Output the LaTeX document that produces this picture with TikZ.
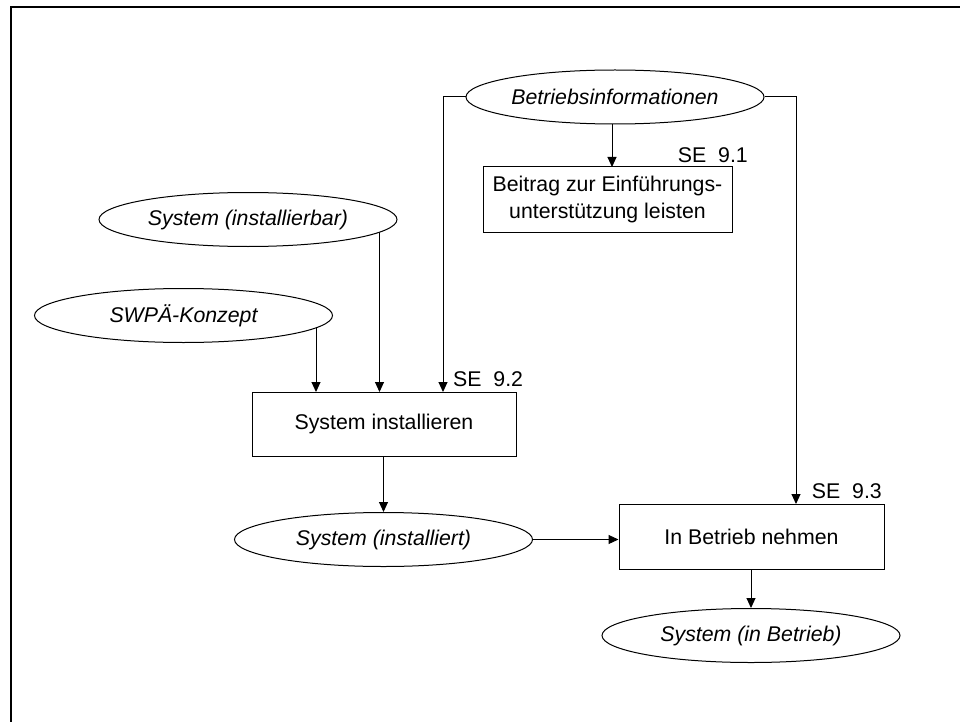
\documentclass[tikz,border=0pt]{standalone}
\usepackage{fontspec}
\setmainfont{Liberation Sans}
\usetikzlibrary{shapes.geometric,arrows.meta}
\pgfdeclarelayer{background}
\pgfsetlayers{background,main}
\newcommand{\diagsize}{\fontsize{21.3}{26.5}\selectfont}
\tikzset{
  doc/.style={ellipse, draw, line width=1pt, fill=white, inner sep=0pt,
    minimum width=298pt, minimum height=54pt, font=\diagsize\itshape},
  act/.style={rectangle, draw, line width=1pt, fill=white, inner sep=0pt,
    align=center, font=\diagsize},
  tag/.style={inner sep=0pt, font=\diagsize},
  flow/.style={line width=1pt, -{Triangle[length=10pt,width=9pt]}},
  frame/.style={line width=2pt, line join=miter}
}
\begin{document}
\begin{tikzpicture}[x=1pt, y=-1pt]
\useasboundingbox (0,0) rectangle (960,722);
\draw[frame] (11,722) -- (11,6.7) -- (960,6.7);

% products and activities
\node[doc] (binfo) at (615,97) {Betriebsinformationen};
\node[act, minimum width=249pt, minimum height=65pt] (beitrag) at (607.5,199.5)
  {Beitrag zur Einführungs-\\unterstützung leisten};
\node[doc] (sysbar) at (248,219.5) {System (installierbar)};
\node[doc] (swpa) at (183.5,315.5) {SWPÄ-Konzept};
\node[act, minimum width=264pt, minimum height=64pt] (sysinst) at (384,424)
  {System installieren};
\node[doc] (sysinstd) at (383.5,539.5) {System (installiert)};
\node[act, minimum width=265pt, minimum height=65pt] (betrieb) at (751.5,536.5)
  {In Betrieb nehmen};
\node[doc] (sysbetr) at (751,635.5) {System (in Betrieb)};

% activity numbers
\node[tag, anchor=base east] (se1) at (748,163) {SE\ \ 9.1};
\node[tag, anchor=base west] (se2) at (453,386) {SE\ \ 9.2};
\node[tag, anchor=base east] (se3) at (882,498) {SE\ \ 9.3};

% entry points on the activity boxes
\coordinate (in1) at (316,392);
\coordinate (in2) at (379.5,392);
\coordinate (in3) at (443,392);
\coordinate (in4) at (796,504);
\coordinate (in5) at (612,167);

\begin{pgfonlayer}{background}
\draw[flow] (binfo.center -| in5) -- (in5);
\draw[flow] (binfo.west) -| (in3);
\draw[flow] (binfo.east) -| (in4);
\draw[flow] (sysbar.center -| in2) -- (in2);
\draw[flow] (swpa.center -| in1) -- (in1);
\draw[flow] (sysinst.south -| sysinstd.north) -- (sysinstd.north);
\draw[flow] (sysinstd.east) -- (sysinstd.east -| betrieb.west);
\draw[flow] (betrieb.south -| sysbetr.north) -- (sysbetr.north);
\end{pgfonlayer}
\end{tikzpicture}
\end{document}
